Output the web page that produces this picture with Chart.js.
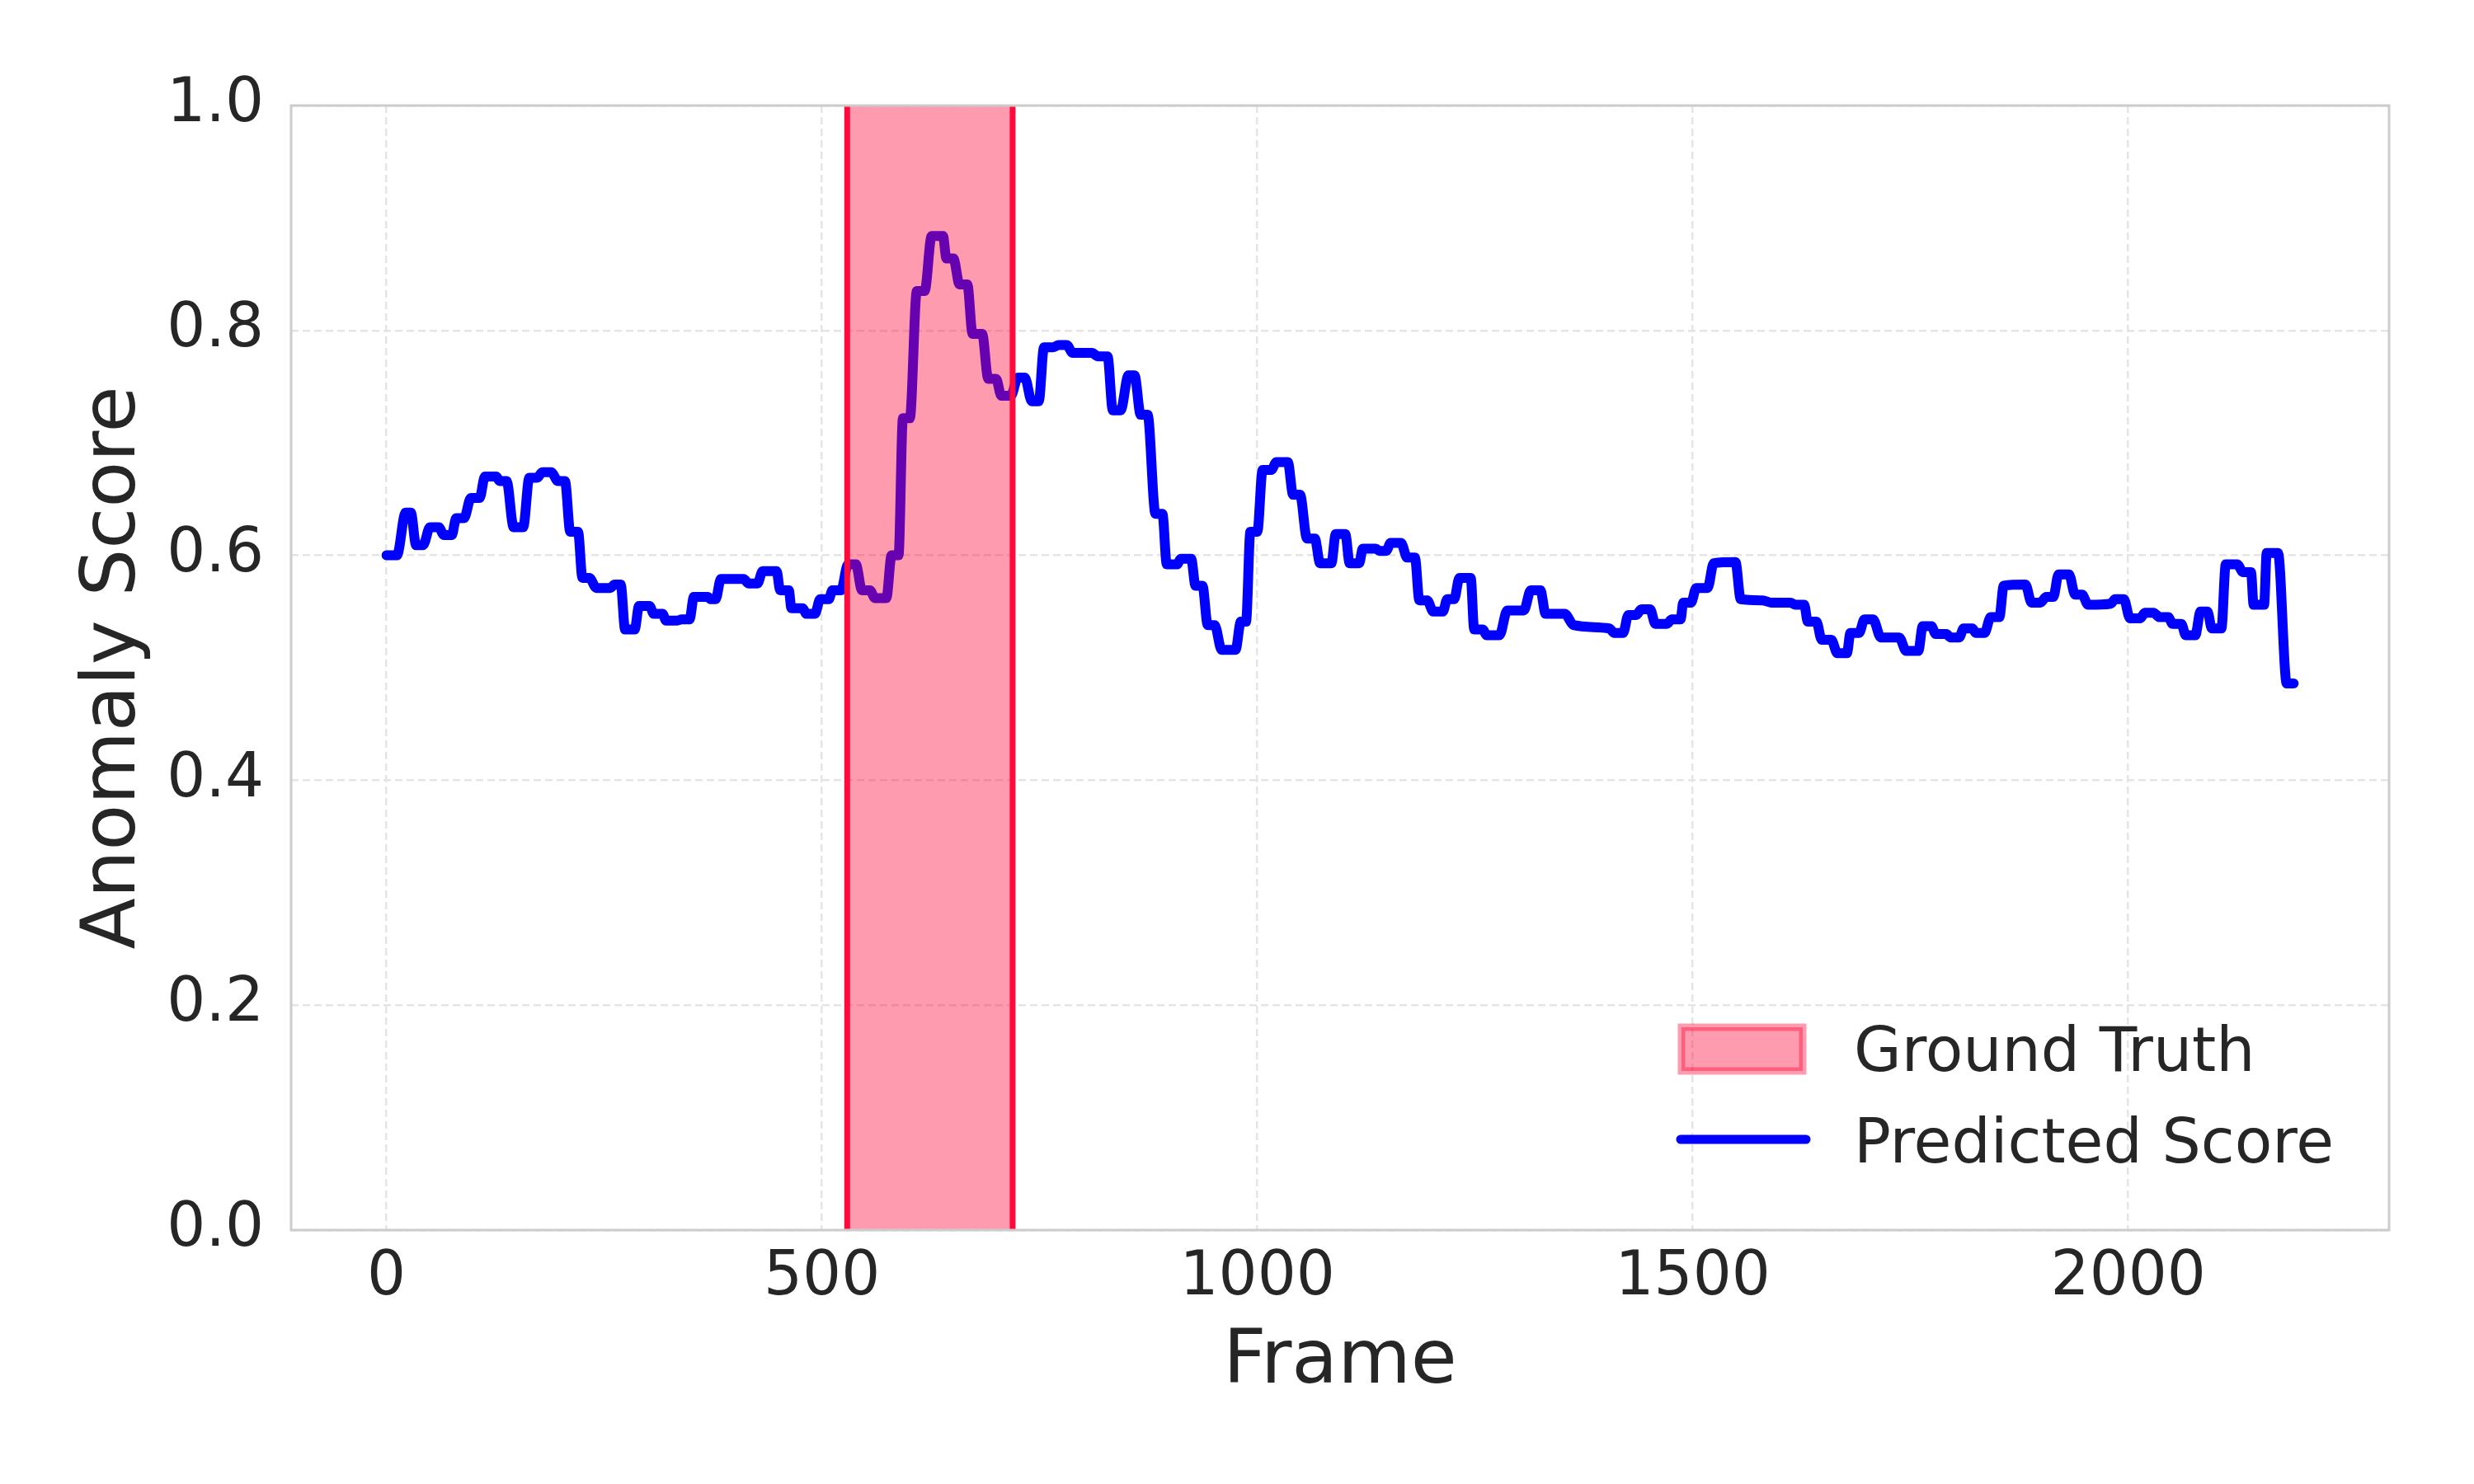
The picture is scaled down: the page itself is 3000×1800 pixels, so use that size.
<!DOCTYPE html>
<html>
<head>
<meta charset="utf-8">
<script src="https://cdn.jsdelivr.net/npm/chart.js@4.4.1/dist/chart.umd.min.js"></script>
<style>
  html, body { margin: 0; padding: 0; background: #fff; }
  #wrap { width: 3000px; height: 1800px; }
</style>
</head>
<body>
<div id="wrap"><canvas id="grafico" width="3000" height="1800"></canvas></div>
<script>
// frame numbers and predicted anomaly score
const frames = [
  0, 12, 22, 28, 34, 42, 50, 60, 66, 75, 80, 89, 97, 107, 113, 126, 130, 138, 146, 157,
  164, 173, 179, 189, 197, 205, 211, 220, 225, 233, 241, 257, 262, 269, 274, 285, 290, 302, 307, 317,
  321, 334, 339, 348, 353, 369, 372, 378, 384, 410, 416, 426, 432, 448, 452, 462, 465, 478, 482, 492,
  498, 508, 512, 522, 530, 539, 546, 555, 561, 574, 580, 588, 593, 601, 609, 618, 626, 639, 643, 651,
  658, 667, 673, 684, 691, 700, 706, 717, 725, 733, 741, 749, 755, 765, 772, 781, 788, 810, 817, 828,
  834, 843, 852, 859, 866, 874, 883, 891, 896, 908, 912, 924, 929, 937, 943, 951, 959, 975, 981, 987,
  992, 1000, 1006, 1016, 1022, 1035, 1041, 1049, 1057, 1066, 1072, 1085, 1090, 1101, 1106, 1117, 1121, 1136, 1140, 1148,
  1153, 1165, 1172, 1181, 1186, 1195, 1202, 1213, 1218, 1226, 1232, 1245, 1249, 1259, 1263, 1278, 1287, 1306, 1314, 1325,
  1331, 1353, 1363, 1404, 1410, 1420, 1426, 1435, 1441, 1451, 1457, 1470, 1476, 1486, 1489, 1498, 1504, 1517, 1524, 1549,
  1555, 1580, 1590, 1612, 1618, 1628, 1632, 1642, 1648, 1659, 1666, 1677, 1681, 1691, 1697, 1707, 1716, 1737, 1745, 1759,
  1764, 1774, 1779, 1791, 1796, 1806, 1811, 1821, 1825, 1835, 1842, 1852, 1857, 1882, 1889, 1899, 1906, 1914, 1920, 1932,
  1939, 1947, 1954, 1980, 1985, 1995, 2002, 2014, 2019, 2029, 2036, 2046, 2051, 2061, 2066, 2077, 2083, 2091, 2096, 2107,
  2112, 2125, 2132, 2141, 2144, 2156, 2159, 2172, 2182, 2190
];
const scores = [
  0.600, 0.600, 0.638, 0.638, 0.609, 0.609, 0.625, 0.625, 0.618, 0.618, 0.633, 0.633, 0.651, 0.651, 0.670, 0.670, 0.666, 0.666, 0.625, 0.625,
  0.669, 0.669, 0.674, 0.674, 0.666, 0.666, 0.621, 0.621, 0.580, 0.580, 0.571, 0.571, 0.574, 0.574, 0.534, 0.534, 0.555, 0.555, 0.548, 0.548,
  0.542, 0.542, 0.543, 0.543, 0.563, 0.563, 0.561, 0.561, 0.579, 0.579, 0.575, 0.575, 0.586, 0.586, 0.569, 0.569, 0.553, 0.553, 0.548, 0.548,
  0.561, 0.561, 0.569, 0.569, 0.592, 0.592, 0.569, 0.569, 0.562, 0.562, 0.600, 0.600, 0.722, 0.722, 0.835, 0.835, 0.884, 0.884, 0.864, 0.864,
  0.841, 0.841, 0.797, 0.797, 0.757, 0.757, 0.742, 0.742, 0.758, 0.758, 0.737, 0.737, 0.785, 0.785, 0.787, 0.787, 0.780, 0.780, 0.777, 0.777,
  0.729, 0.729, 0.760, 0.760, 0.725, 0.725, 0.637, 0.637, 0.592, 0.592, 0.597, 0.597, 0.573, 0.573, 0.538, 0.538, 0.516, 0.516, 0.541, 0.541,
  0.621, 0.621, 0.676, 0.676, 0.683, 0.683, 0.654, 0.654, 0.615, 0.615, 0.593, 0.593, 0.619, 0.619, 0.593, 0.593, 0.606, 0.606, 0.604, 0.604,
  0.611, 0.611, 0.598, 0.598, 0.560, 0.560, 0.550, 0.550, 0.561, 0.561, 0.580, 0.580, 0.534, 0.534, 0.529, 0.529, 0.551, 0.551, 0.569, 0.569,
  0.548, 0.548, 0.538, 0.535, 0.531, 0.531, 0.547, 0.547, 0.552, 0.552, 0.539, 0.539, 0.543, 0.543, 0.558, 0.558, 0.571, 0.571, 0.593, 0.594,
  0.561, 0.560, 0.558, 0.558, 0.556, 0.556, 0.541, 0.541, 0.525, 0.525, 0.513, 0.513, 0.531, 0.531, 0.543, 0.543, 0.527, 0.527, 0.515, 0.515,
  0.537, 0.537, 0.530, 0.530, 0.527, 0.527, 0.535, 0.535, 0.531, 0.531, 0.545, 0.545, 0.573, 0.574, 0.558, 0.558, 0.563, 0.563, 0.583, 0.583,
  0.565, 0.565, 0.556, 0.557, 0.561, 0.561, 0.544, 0.544, 0.549, 0.549, 0.545, 0.545, 0.539, 0.539, 0.529, 0.529, 0.550, 0.550, 0.535, 0.535,
  0.592, 0.592, 0.585, 0.585, 0.556, 0.556, 0.602, 0.602, 0.486, 0.486
];
// ground truth anomaly interval (frames)
const gtStart = 529;
const gtEnd = 719;

const xTicks = [0, 500, 1000, 1500, 2000];
const yTicks = [0, 0.2, 0.4, 0.6, 0.8, 1.0];

const FONT = "'DejaVu Sans', sans-serif";
const TXT = "#262626";
const GT_FILL = "rgba(255, 5, 55, 0.4)";
const GT_LINE = "#ff0a3c";
const LINE = "#0000ff";

// faixa vermelha do ground truth, por cima da curva
const gtSpan = {
  id: "gtSpan",
  afterDatasetsDraw(chart) {
    const { ctx, chartArea: a, scales: { x } } = chart;
    const x0 = x.getPixelForValue(gtStart);
    const x1 = x.getPixelForValue(gtEnd);
    ctx.save();
    ctx.fillStyle = GT_FILL;
    ctx.fillRect(x0, a.top, x1 - x0, a.bottom - a.top);
    ctx.strokeStyle = GT_LINE;
    ctx.lineWidth = 7;
    [x0, x1].forEach(px => {
      ctx.beginPath();
      ctx.moveTo(px, a.top);
      ctx.lineTo(px, a.bottom);
      ctx.stroke();
    });
    ctx.restore();
  }
};

// moldura e legenda
const frameAndLegend = {
  id: "frameAndLegend",
  afterDraw(chart) {
    const { ctx, chartArea: a } = chart;
    ctx.save();
    ctx.strokeStyle = "#cccccc";
    ctx.lineWidth = 3;
    ctx.strokeRect(a.left, a.top, a.right - a.left, a.bottom - a.top);

    // patch
    const px = a.right - 858, py = a.bottom - 246;
    ctx.fillStyle = GT_FILL;
    ctx.fillRect(px, py, 147, 53);
    ctx.strokeStyle = GT_FILL;
    ctx.lineWidth = 9;
    ctx.strokeRect(px, py, 147, 53);

    // line sample
    ctx.strokeStyle = LINE;
    ctx.lineWidth = 11;
    ctx.lineCap = "round";
    ctx.beginPath();
    ctx.moveTo(a.right - 859, a.bottom - 110);
    ctx.lineTo(a.right - 707, a.bottom - 110);
    ctx.stroke();

    ctx.fillStyle = TXT;
    ctx.font = "74.5px " + FONT;
    ctx.textBaseline = "alphabetic";
    ctx.textAlign = "left";
    ctx.fillText("Ground Truth", a.right - 649, a.bottom - 193);
    ctx.fillText("Predicted Score", a.right - 649, a.bottom - 82);
    ctx.restore();
  }
};

const ctx = document.getElementById("grafico");
new Chart(ctx, {
  type: "line",
  data: {
    datasets: [{
      label: "Predicted Score",
      data: frames.map((f, i) => ({ x: f, y: scores[i] })),
      borderColor: LINE,
      borderWidth: 12,
      pointRadius: 0,
      cubicInterpolationMode: "monotone",
      borderCapStyle: "round",
      borderJoinStyle: "round",
      fill: false
    }]
  },
  options: {
    responsive: false,
    animation: false,
    devicePixelRatio: 1,
    layout: { padding: { top: 128, right: 103, left: 0, bottom: 0 } },
    plugins: { legend: { display: false }, tooltip: { enabled: false } },
    scales: {
      x: {
        type: "linear",
        min: -109.5,
        max: 2299.5,
        afterBuildTicks: s => { s.ticks = xTicks.map(v => ({ value: v })); },
        afterFit: s => { s.height = 308; },
        grid: { color: "#e5e5e5", lineWidth: 2.5, drawTicks: false },
        border: { display: false, dash: [9, 5] },
        ticks: {
          font: { family: FONT, size: 74 }, color: TXT, padding: 14,
          maxRotation: 0, autoSkip: false, callback: v => String(v)
        },
        title: {
          display: true, text: "Frame", color: TXT,
          font: { family: FONT, size: 91 }, padding: { top: 0, bottom: 92 }
        }
      },
      y: {
        min: 0,
        max: 1,
        afterBuildTicks: s => { s.ticks = yTicks.map(v => ({ value: v })); },
        afterFit: s => { s.width = 353; },
        grid: { color: "#e5e5e5", lineWidth: 2.5, drawTicks: false },
        border: { display: false, dash: [9, 5] },
        ticks: {
          font: { family: FONT, size: 74 }, color: TXT, padding: 33,
          autoSkip: false, callback: v => v.toFixed(1)
        },
        title: {
          display: true, text: "Anomaly Score", color: TXT,
          font: { family: FONT, size: 91 }, padding: { top: 85, bottom: 0 }
        }
      }
    }
  },
  plugins: [gtSpan, frameAndLegend]
});
</script>
</body>
</html>
